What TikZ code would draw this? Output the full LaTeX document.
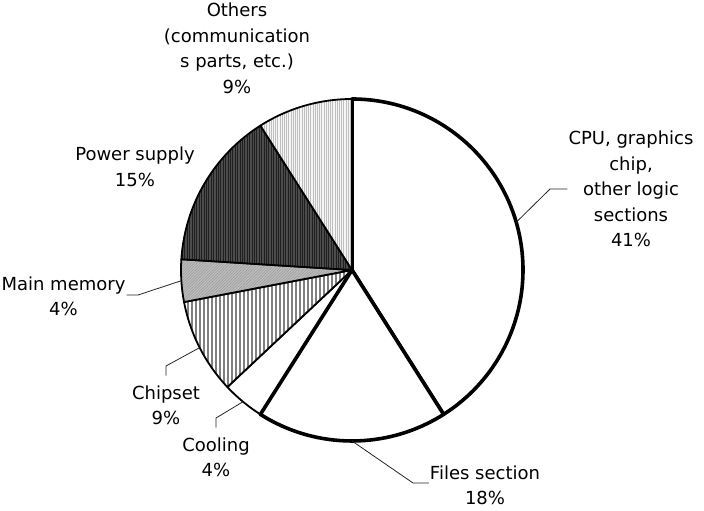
\documentclass[tikz,border=0pt]{standalone}
\usepackage{fontspec}
\setmainfont{DejaVu Sans}
\usetikzlibrary{patterns.meta}
\tikzset{
	slice/.style={draw=black, line width=1.8pt, line join=round},
	bigslice/.style={draw=black, line width=3.6pt, line join=round, fill=white},
	stripe/.style={line width=#1},
	leader/.style={draw=black!85, line width=0.8pt},
	lbl/.style={align=center, inner sep=1pt, font=\fontsize{18}{25.5}\selectfont},
}
\begin{document}
\begin{tikzpicture}[x=1pt,y=1pt]
	\useasboundingbox (0,0) rectangle (704,511);
	\def\r{171}
	\coordinate (C) at (352,241);
	
	%CPU slice
	\draw[bigslice] (C) -- ++(90:\r) arc (90:-57.6:\r) -- cycle;
	%Files section slice
	\draw[bigslice] (C) -- ++(-57.6:\r) arc (-57.6:-122.4:\r) -- cycle;
	%Cooling slice
	\draw[slice] (C) -- ++(-122.4:\r) arc (-122.4:-136.8:\r) -- cycle;
	
	%Chipset slice
	\fill[white] (C) -- ++(-136.8:\r) arc (-136.8:-169.2:\r) -- cycle;
	\begin{scope}
		\clip (C) -- ++(-136.8:\r) arc (-136.8:-169.2:\r) -- cycle;
		\foreach \x in {180,184,...,352}
			\draw[stripe=1.5pt, black!50] (\x,60) -- (\x,250);
	\end{scope}
	\draw[slice] (C) -- ++(-136.8:\r) arc (-136.8:-169.2:\r) -- cycle;
	
	%Main memory slice
	\draw[slice, preaction={fill=black!26}, pattern={Lines[angle=45,distance=2pt,line width=.5pt]}, pattern color=black!40]
		(C) -- ++(-169.2:\r) arc (-169.2:-183.6:\r) -- cycle;
	
	%Power supply slice
	\fill[black!70] (C) -- ++(-183.6:\r) arc (-183.6:-237.6:\r) -- cycle;
	\begin{scope}
		\clip (C) -- ++(-183.6:\r) arc (-183.6:-237.6:\r) -- cycle;
		\foreach \x in {180,182.4,...,352}
			\draw[stripe=.8pt, black!88] (\x,230) -- (\x,400);
	\end{scope}
	\draw[slice] (C) -- ++(-183.6:\r) arc (-183.6:-237.6:\r) -- cycle;
	
	%Others slice
	\fill[black!4] (C) -- ++(-237.6:\r) arc (-237.6:-270:\r) -- cycle;
	\begin{scope}
		\clip (C) -- ++(-237.6:\r) arc (-237.6:-270:\r) -- cycle;
		\foreach \x in {258,260.2,...,352}
			\draw[stripe=.7pt, black!25] (\x,230) -- (\x,420);
	\end{scope}
	\draw[slice] (C) -- ++(-237.6:\r) arc (-237.6:-270:\r) -- cycle;
	
	%points on the rim
	\path (C) ++(16.2:\r) coordinate (cpuarc);
	\path (C) ++(-90:\r) coordinate (filesarc);
	\path (C) ++(-129.6:\r) coordinate (coolarc);
	\path (C) ++(-153:\r) coordinate (chiparc);
	\path (C) ++(-176.4:\r) coordinate (memarc);
	
	%labels
	\node[lbl] (cpu) at (631,322) {CPU, graphics\\chip,\\other logic\\sections\\41\%};
	\node[lbl] (files) at (485,25.5) {Files section\\18\%};
	\node[lbl] (cooling) at (216,53.5) {Cooling\\4\%};
	\node[lbl] (chipset) at (166,105.5) {Chipset\\9\%};
	\node[lbl] (mem) at (63.5,214.5) {Main memory\\4\%};
	\node[lbl] (power) at (135,344) {Power supply\\15\%};
	\node[lbl] (others) at (237,462.5) {Others\\(communication\\s parts, etc.)\\9\%};
	
	%leader lines
	\coordinate (cpuelbow) at (550,322);
	\coordinate (fileselbow) at (413,28);
	\coordinate (coolelbow) at (216,93);
	\coordinate (chipelbow) at (166,145);
	\coordinate (memelbow) at (138,216);
	\draw[leader] (cpuarc) -- (cpuelbow) -- (cpuelbow -| cpu.west);
	\draw[leader] (filesarc) -- (fileselbow) -- (fileselbow -| files.west);
	\draw[leader, shorten >=9pt] (coolarc) -- (coolelbow) -- (cooling.north);
	\draw[leader, shorten >=9pt] (chiparc) -- (chipelbow) -- (chipset.north);
	\draw[leader] (memarc) -- (memelbow) -- (memelbow -| mem.east);
\end{tikzpicture}
\end{document}
